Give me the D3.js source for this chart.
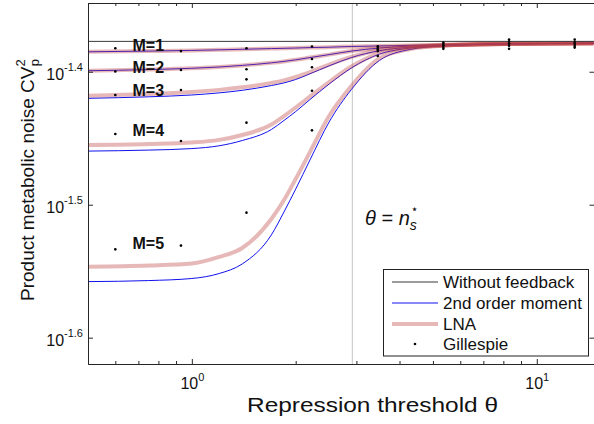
<!DOCTYPE html>
<html>
<head>
<meta charset="utf-8">
<script src="https://cdn.jsdelivr.net/npm/d3@7"></script>
<style>
  html, body { margin: 0; padding: 0; background: #fff; }
  svg { display: block; }
  text { font-family: "Liberation Sans", Arial, Helvetica, sans-serif; fill: #111; }
</style>
</head>
<body>
<svg id="chart" width="594" height="424"></svg>
<script>
// Repression threshold grid for the analytical curves
const theta = [0.5, 0.75, 1.0, 1.2, 1.4, 1.7, 1.85, 2.0, 2.2, 2.5, 2.9, 3.5, 4.3, 5.3, 8.3, 14.6];

// No-feedback reference level
const withoutFeedback = 0.04196;

// 2nd order moment closure, M = 1..5
const momentM1 = [0.04121, 0.04126, 0.04131, 0.04135, 0.04139, 0.04144, 0.04146, 0.04148, 0.04151, 0.04154, 0.04159, 0.04163, 0.04167, 0.04171, 0.04178, 0.04182];
const momentM2 = [0.03988, 0.03996, 0.04005, 0.04014, 0.04025, 0.04043, 0.04053, 0.04064, 0.04080, 0.04101, 0.04126, 0.04148, 0.04162, 0.04169, 0.04178, 0.04182];
const momentM3 = [0.03802, 0.03812, 0.03824, 0.03838, 0.03855, 0.03887, 0.03905, 0.03928, 0.03967, 0.04022, 0.04080, 0.04129, 0.04154, 0.04166, 0.04178, 0.04182];
const momentM4 = [0.03470, 0.03476, 0.03485, 0.03502, 0.03534, 0.03602, 0.03659, 0.03716, 0.03794, 0.03897, 0.04007, 0.04105, 0.04148, 0.04164, 0.04178, 0.04182];
const momentM5 = [0.02768, 0.02773, 0.02783, 0.02807, 0.02854, 0.03001, 0.03123, 0.03249, 0.03417, 0.03649, 0.03860, 0.04060, 0.04138, 0.04162, 0.04178, 0.04182];

// Linear noise approximation, M = 1..5
const lnaM1 = [0.04121, 0.04126, 0.04131, 0.04135, 0.04139, 0.04144, 0.04146, 0.04148, 0.04151, 0.04154, 0.04159, 0.04163, 0.04167, 0.04171, 0.04178, 0.04182];
const lnaM2 = [0.03988, 0.03996, 0.04005, 0.04014, 0.04025, 0.04043, 0.04053, 0.04064, 0.04080, 0.04101, 0.04126, 0.04148, 0.04162, 0.04169, 0.04178, 0.04182];
const lnaM3 = [0.03819, 0.03830, 0.03844, 0.03858, 0.03875, 0.03905, 0.03922, 0.03945, 0.03979, 0.04031, 0.04085, 0.04132, 0.04155, 0.04167, 0.04178, 0.04182];
const lnaM4 = [0.03507, 0.03513, 0.03522, 0.03538, 0.03568, 0.03633, 0.03687, 0.03742, 0.03814, 0.03911, 0.04017, 0.04112, 0.04150, 0.04165, 0.04178, 0.04182];
const lnaM5 = [0.02840, 0.02846, 0.02856, 0.02889, 0.02934, 0.03085, 0.03188, 0.03306, 0.03464, 0.03687, 0.03884, 0.04075, 0.04141, 0.04164, 0.04178, 0.04182];

// Stochastic simulation estimates
const gillespieTheta = [0.60, 0.93, 1.44, 2.23, 3.46, 5.36, 8.31, 12.88];
const gillespieM1 = [0.04146, 0.04126, 0.04146, 0.04159, 0.04160, 0.04188, 0.04209, 0.04209];
const gillespieM2 = [0.03983, 0.03993, 0.03998, 0.04070, 0.04148, 0.04177, 0.04195, 0.04191];
const gillespieM3 = [0.03824, 0.03857, 0.03929, 0.04012, 0.04137, 0.04166, 0.04180, 0.04177];
const gillespieM4 = [0.03574, 0.03531, 0.03645, 0.03852, 0.04126, 0.04155, 0.04165, 0.04162];
const gillespieM5 = [0.02927, 0.02946, 0.03119, 0.03597, 0.04091, 0.04142, 0.04142, 0.04151];

// Curve labels, anchored in data coordinates
const curveLabels = ["M=1", "M=2", "M=3", "M=4", "M=5"];
const curveLabelTheta = 0.673;
const curveLabelLevel = [0.041285, 0.039742, 0.038171, 0.035635, 0.029272];

// Threshold marker
const thresholdTheta = 2.92;

// Axis ticks
const xMajorTicks = [1, 10];
const xTickExponents = ["0", "1"];
const xMinorTicks = [0.5, 0.6, 0.7, 0.8, 0.9, 2, 3, 4, 5, 6, 7, 8, 9];
const yTicks = [Math.pow(10, -1.6), Math.pow(10, -1.5), Math.pow(10, -1.4)];
const yTickExponents = ["-1.6", "-1.5", "-1.4"];

const legendEntries = ["Without feedback", "2nd order moment", "LNA", "Gillespie"];

const momentSeries = [momentM1, momentM2, momentM3, momentM4, momentM5];
const lnaSeries = [lnaM1, lnaM2, lnaM3, lnaM4, lnaM5];
const gillespieSeries = [gillespieM1, gillespieM2, gillespieM3, gillespieM4, gillespieM5];

// ---------------------------------------------------------------------------
const svg = d3.select("#chart");
const plot = { left: 88, top: 3, right: 594.5, bottom: 364 };

const x = d3.scaleLog().domain([0.5, 14.7]).range([plot.left, plot.right]);
const y = d3.scaleLog().domain([Math.pow(10, -1.6198), Math.pow(10, -1.3483)]).range([plot.bottom, plot.top]);

const axisColor = "#262626";
const lnaColor = "rgba(190, 62, 62, 0.37)";
const momentColor = "#1010ee";

svg.append("defs").append("clipPath").attr("id", "plot-clip")
  .append("rect")
  .attr("x", plot.left).attr("y", plot.top)
  .attr("width", plot.right - plot.left).attr("height", plot.bottom - plot.top);

const body = svg.append("g").attr("clip-path", "url(#plot-clip)");

// threshold vertical line
body.append("line")
  .attr("x1", x(thresholdTheta)).attr("x2", x(thresholdTheta))
  .attr("y1", plot.top).attr("y2", plot.bottom)
  .attr("stroke", "#cfcfcf").attr("stroke-width", 1.2);

const line = d3.line()
  .x((d, i) => x(theta[i]))
  .y(d => y(d))
  .curve(d3.curveMonotoneX);

// 2nd order moment curves
body.selectAll("path.moment").data(momentSeries).join("path")
  .attr("class", "moment")
  .attr("d", line)
  .attr("fill", "none")
  .attr("stroke", momentColor)
  .attr("stroke-width", 1);

// LNA curves (wide translucent band)
body.selectAll("path.lna").data(lnaSeries).join("path")
  .attr("class", "lna")
  .attr("d", line)
  .attr("fill", "none")
  .attr("stroke", lnaColor)
  .attr("stroke-width", 4);

// no-feedback level
body.append("line")
  .attr("x1", plot.left).attr("x2", plot.right)
  .attr("y1", y(withoutFeedback)).attr("y2", y(withoutFeedback))
  .attr("stroke", "#3a3a3a").attr("stroke-width", 1);

// Gillespie points
gillespieSeries.forEach(vals => {
  body.append("g").selectAll("circle").data(vals).join("circle")
    .attr("cx", (d, i) => x(gillespieTheta[i]))
    .attr("cy", d => y(d))
    .attr("r", 1.3)
    .attr("fill", "#000");
});

// curve labels
svg.append("g").selectAll("text").data(curveLabels).join("text")
  .attr("x", x(curveLabelTheta))
  .attr("y", (d, i) => y(curveLabelLevel[i]))
  .attr("font-size", 16)
  .attr("font-weight", "bold")
  .attr("fill", "#000")
  .text(d => d);

// threshold annotation
const ann = svg.append("text")
  .attr("x", 365).attr("y", 225)
  .attr("font-family", "'Liberation Serif', 'DejaVu Serif', serif")
  .attr("font-size", 20)
  .attr("fill", "#222");
ann.append("tspan").attr("font-style", "italic").text("θ");
ann.append("tspan").text(" = ");
ann.append("tspan").attr("font-style", "italic").text("n");
ann.append("tspan").attr("font-style", "italic").attr("font-size", 14).attr("dy", 5).text("s");
ann.append("tspan").attr("font-family", "'DejaVu Sans', sans-serif").attr("font-size", 12).attr("dx", -6).attr("dy", -17).text("⋆");

// ---------------------------------------------------------------------------
// Axes (box with ticks pointing inward)
function styleAxis(g) {
  g.attr("color", axisColor);
  g.select(".domain").attr("stroke-width", 1);
}

const gBottom = svg.append("g").attr("transform", `translate(0,${plot.bottom})`)
  .call(d3.axisBottom(x).tickValues(xMajorTicks).tickSizeInner(-5).tickSizeOuter(0).tickPadding(0))
  .call(styleAxis);
gBottom.selectAll(".tick text").each(function (d, i) {
  const t = d3.select(this).text(null).attr("y", 25).attr("dy", null)
    .attr("font-size", 16).attr("fill", "#111").attr("font-family", null);
  t.append("tspan").text("10");
  t.append("tspan").attr("font-size", 11).attr("dy", -8).text(xTickExponents[i]);
});
svg.append("g").attr("transform", `translate(0,${plot.bottom})`)
  .call(d3.axisBottom(x).tickValues(xMinorTicks).tickSizeInner(-3).tickSizeOuter(0).tickFormat(""))
  .call(styleAxis);

svg.append("g").attr("transform", `translate(0,${plot.top})`)
  .call(d3.axisTop(x).tickValues(xMajorTicks).tickSizeInner(-5).tickSizeOuter(0).tickFormat(""))
  .call(styleAxis);
svg.append("g").attr("transform", `translate(0,${plot.top})`)
  .call(d3.axisTop(x).tickValues(xMinorTicks).tickSizeInner(-3).tickSizeOuter(0).tickFormat(""))
  .call(styleAxis);

const gLeft = svg.append("g").attr("transform", `translate(${plot.left},0)`)
  .call(d3.axisLeft(y).tickValues(yTicks).tickSizeInner(-5).tickSizeOuter(0).tickPadding(5))
  .call(styleAxis);
gLeft.selectAll(".tick text").each(function (d, i) {
  const t = d3.select(this).text(null).attr("x", -5).attr("y", 7.5).attr("dy", null)
    .attr("font-size", 16).attr("fill", "#111").attr("font-family", null);
  t.append("tspan").text("10");
  t.append("tspan").attr("font-size", 11).attr("dy", -9).text(yTickExponents[i]);
});

svg.append("g").attr("transform", `translate(${plot.right},0)`)
  .call(d3.axisRight(y).tickValues(yTicks).tickSizeInner(-5).tickSizeOuter(0).tickFormat(""))
  .call(styleAxis);

// axis titles
svg.append("text")
  .attr("x", 247).attr("y", 412)
  .attr("font-size", 19.5)
  .attr("textLength", 251)
  .attr("lengthAdjust", "spacingAndGlyphs")
  .text("Repression threshold θ");

const yTitle = svg.append("text")
  .attr("transform", "translate(34,180) rotate(-90)")
  .attr("text-anchor", "middle")
  .attr("font-size", 19);
yTitle.append("tspan").text("Product metabolic noise CV");
yTitle.append("tspan").attr("font-size", 13).attr("dy", -9).text("2");
yTitle.append("tspan").attr("font-size", 13).attr("dx", -7).attr("dy", 14).text("p");

// ---------------------------------------------------------------------------
// Legend
const legend = svg.append("g");
legend.append("rect")
  .attr("x", 383.5).attr("y", 269.5).attr("width", 205).attr("height", 86.5)
  .attr("fill", "#fff").attr("stroke", "#222").attr("stroke-width", 1);

const rowY = [282, 303, 324, 344];
const lx0 = 392, lx1 = 438, tx = 443;

legend.append("line").attr("x1", lx0).attr("x2", lx1).attr("y1", rowY[0]).attr("y2", rowY[0])
  .attr("stroke", "#7a7a7a").attr("stroke-width", 1.3);
legend.append("line").attr("x1", lx0).attr("x2", lx1).attr("y1", rowY[1]).attr("y2", rowY[1])
  .attr("stroke", momentColor).attr("stroke-width", 1);
legend.append("line").attr("x1", lx0).attr("x2", lx1).attr("y1", rowY[2]).attr("y2", rowY[2])
  .attr("stroke", lnaColor).attr("stroke-width", 4);
legend.append("circle").attr("cx", (lx0 + lx1) / 2).attr("cy", rowY[3]).attr("r", 1.3).attr("fill", "#000");

legend.selectAll("text.entry").data(legendEntries).join("text")
  .attr("class", "entry")
  .attr("x", tx)
  .attr("y", (d, i) => rowY[i] + 6)
  .attr("font-size", 17)
  .text(d => d);
</script>
</body>
</html>
